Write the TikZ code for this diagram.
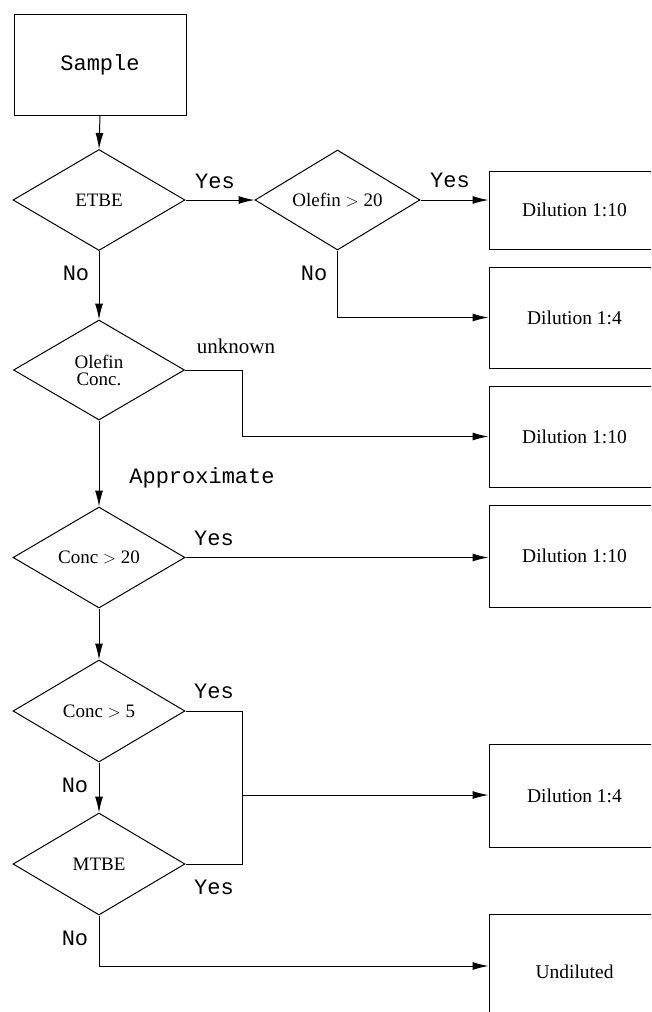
\documentclass[tikz,border=0pt]{standalone}
\usepackage{fontspec}
\setmainfont{Liberation Serif}
\newfontfamily\cour{Liberation Mono}
\usetikzlibrary{shapes.geometric,arrows.meta}
\begin{document}
\begin{tikzpicture}[x=1pt,y=-1pt,
  line width=1pt,
  arr/.style={-{Latex[length=16pt,width=8pt]}},
  dec/.style={draw,shape=diamond,aspect=1.7,inner sep=0pt,minimum width=172pt,minimum height=101pt,font=\fontsize{19}{20}\selectfont,align=center},
  outbox/.style={draw,rectangle,inner sep=0pt,minimum width=171pt,font=\fontsize{19.5}{21}\selectfont},
  lab/.style={font=\cour\fontsize{22}{24}\selectfont,inner sep=0pt,anchor=base},
  tlab/.style={font=\fontsize{21}{23}\selectfont,inner sep=0pt,anchor=base}]
\useasboundingbox (0,0) rectangle (651,1012);
\clip (0,0) rectangle (651,1012);
% start box
\node[draw,rectangle,minimum width=172pt,minimum height=101pt,inner sep=0pt,font=\cour\fontsize{22}{24}\selectfont] (sample) at (100,64.5) {Sample};
% decisions
\node[dec] (etbe) at (99,200) {ETBE};
\node[dec,minimum width=165pt,minimum height=100pt] (ol20) at (337.5,200) {Olefin \(>\) 20};
\node[dec,minimum width=171pt,minimum height=100pt] (olc) at (99,370) {Olefin\\[-3pt]Conc.};
\node[dec] (c20) at (99,557.5) {Conc \(>\) 20};
\node[dec,minimum height=102pt] (c5) at (99,711) {Conc \(>\) 5};
\node[dec,minimum height=102pt] (mtbe) at (99,864) {MTBE};
% outcome boxes
\node[outbox,minimum height=78pt] (b1) at (574.5,210) {Dilution 1:10};
\node[outbox,minimum height=101pt] (b2) at (574.5,317.5) {Dilution 1:4};
\node[outbox,minimum height=101pt] (b3) at (574.5,436.5) {Dilution 1:10};
\node[outbox,minimum height=102pt] (b4) at (574.5,556) {Dilution 1:10};
\node[outbox,minimum height=103pt] (b5) at (574.5,795.5) {Dilution 1:4};
\node[outbox,minimum height=116pt] (b6) at (574.5,972) {Undiluted};
% junction coordinates
\coordinate (j1) at (242,370);
\coordinate (j2) at (242,711);
\coordinate (j3) at (242,864);
\coordinate (j4) at (242,795);
% connectors
\draw[arr] (sample.south) -- (etbe.north);
\draw[arr] (etbe.east) -- (ol20.west);
\draw[arr] (etbe.south) -- (olc.north);
\draw[arr] (ol20.east) -- (b1.west |- ol20.east);
\draw[arr] (ol20.south) |- (b2.west);
\draw[arr] (olc.east) -- (j1) |- (b3.west);
\draw[arr] (olc.south) -- (c20.north);
\draw[arr] (c20.east) -- (b4.west |- c20.east);
\draw[arr] (c20.south) -- (c5.north);
\draw (c5.east) -- (j2) -- (j3) -- (mtbe.east);
\draw[arr] (j4) -- (b5.west |- j4);
\draw[arr] (c5.south) -- (mtbe.north);
\draw[arr] (mtbe.south) |- (b6.west |- 0,966);
% labels
\node[lab] (l1) at (215,188) {Yes};
\node[lab] (l2) at (450,187) {Yes};
\node[lab] (l3) at (314,280) {No};
\node[lab] (l4) at (76,280) {No};
\node[tlab] (l5) at (236,353) {unknown};
\node[lab] (l6) at (202,483) {Approximate};
\node[lab] (l7) at (214,545) {Yes};
\node[lab] (l8) at (214,698) {Yes};
\node[lab] (l9) at (75,792) {No};
\node[lab] (l10) at (214,894) {Yes};
\node[lab] (l11) at (75,945) {No};
\end{tikzpicture}
\end{document}
